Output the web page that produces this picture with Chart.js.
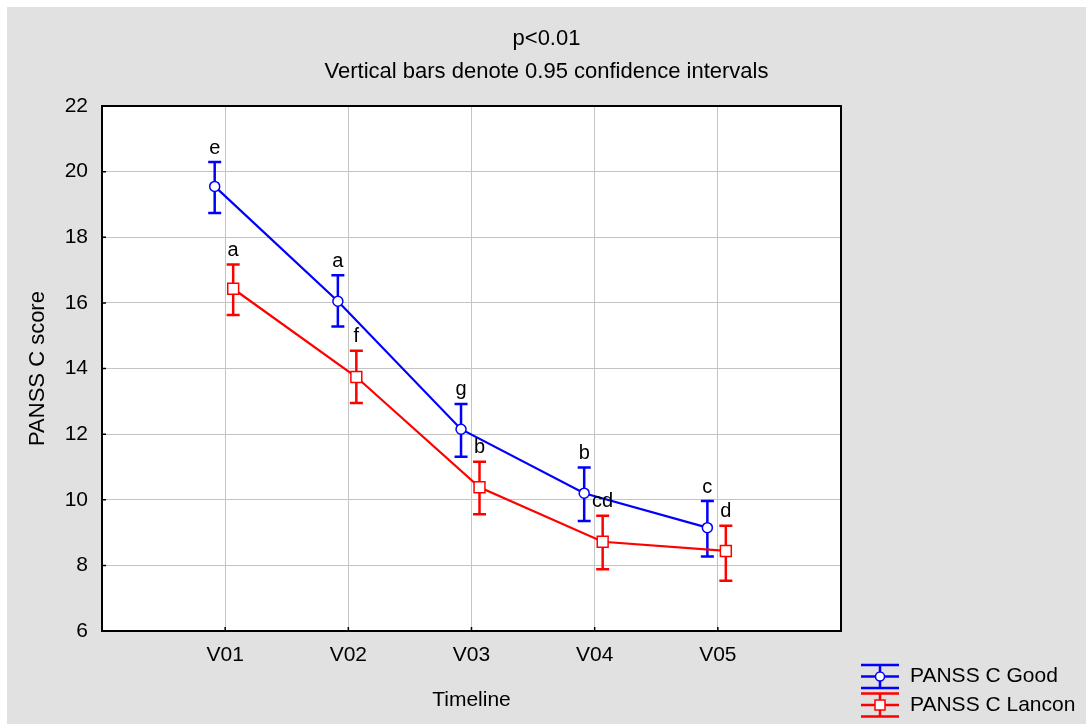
<!DOCTYPE html>
<html>
<head>
<meta charset="utf-8">
<script src="https://cdn.jsdelivr.net/npm/chart.js@4.4.0/dist/chart.umd.min.js"></script>
<style>
  html, body { margin: 0; padding: 0; background: #fff; }
  #wrap { width: 1086px; height: 725px; }
</style>
</head>
<body>
<div id="wrap"><canvas id="panss-chart"></canvas></div>
<script>
// x axis labels (one per visit)
const categories = ['V01', 'V02', 'V03', 'V04', 'V05'];

// PANSS C - Good group: means and 0.95 CI limits
const goodMean = [19.55, 16.05, 12.15, 10.2, 9.15];
const goodLow = [18.74, 15.28, 11.31, 9.35, 8.27];
const goodHigh = [20.29, 16.84, 12.92, 10.98, 9.96];
const goodLetters = ['e', 'a', 'g', 'b', 'c'];

// PANSS C - Lancon group
const lanconMean = [16.43, 13.74, 10.38, 8.72, 8.44];
const lanconLow = [15.63, 12.95, 9.56, 7.88, 7.53];
const lanconHigh = [17.17, 14.54, 11.16, 9.51, 9.21];
const lanconLetters = ['a', 'f', 'b', 'cd', 'd'];

const FONT = "'Liberation Sans', Arial, sans-serif";

// small horizontal shift so the two series don't sit on top of each other
const toPoints = (vals, shift) => vals.map((v, i) => ({ x: i + 1 + shift, y: v }));

const panssPlugin = {
  id: 'panssPlugin',
  beforeDraw(chart) {
    const { ctx, width, height, chartArea: a } = chart;
    ctx.save();
    ctx.fillStyle = '#fff';
    ctx.fillRect(0, 0, width, height);
    ctx.fillStyle = '#e1e1e1';
    ctx.fillRect(7, 7, width - 7, height - 8);
    ctx.fillStyle = '#fff';
    ctx.fillRect(a.left, a.top, a.right - a.left, a.bottom - a.top);
    ctx.restore();
  },
  beforeDatasetsDraw(chart) {
    // confidence interval whiskers
    const { ctx, scales: { y } } = chart;
    ctx.save();
    chart.data.datasets.forEach((ds, d) => {
      const meta = chart.getDatasetMeta(d);
      ctx.strokeStyle = ds.borderColor;
      ctx.lineWidth = 2.5;
      meta.data.forEach((pt, i) => {
        const top = y.getPixelForValue(ds.high[i]);
        const bot = y.getPixelForValue(ds.low[i]);
        ctx.beginPath();
        ctx.moveTo(pt.x, top); ctx.lineTo(pt.x, bot);
        ctx.moveTo(pt.x - 6.5, top); ctx.lineTo(pt.x + 6.5, top);
        ctx.moveTo(pt.x - 6.5, bot); ctx.lineTo(pt.x + 6.5, bot);
        ctx.stroke();
      });
    });
    ctx.restore();
  },
  afterDatasetsDraw(chart) {
    const { ctx, chartArea: a, scales: { x, y } } = chart;
    ctx.save();
    // group letters above the whiskers
    ctx.fillStyle = '#000';
    ctx.font = '20px ' + FONT;
    ctx.textAlign = 'center';
    ctx.textBaseline = 'middle';
    chart.data.datasets.forEach((ds, d) => {
      const meta = chart.getDatasetMeta(d);
      meta.data.forEach((pt, i) => {
        ctx.fillText(ds.letters[i], pt.x, y.getPixelForValue(ds.high[i]) - 14);
      });
    });
    // frame + inward ticks
    ctx.strokeStyle = '#000';
    ctx.lineWidth = 2;
    ctx.strokeRect(a.left, a.top, a.right - a.left, a.bottom - a.top);
    ctx.lineWidth = 1.5;
    ctx.beginPath();
    for (let v = 8; v <= 20; v += 2) {
      const py = y.getPixelForValue(v);
      ctx.moveTo(a.left, py); ctx.lineTo(a.left + 4, py);
    }
    for (let v = 1; v <= categories.length; v++) {
      const px = x.getPixelForValue(v);
      ctx.moveTo(px, a.bottom); ctx.lineTo(px, a.bottom - 4);
    }
    ctx.stroke();
    ctx.restore();
  },
  afterDraw(chart) {
    // legend with error-bar icons, bottom right
    const { ctx, chartArea: a } = chart;
    ctx.save();
    ctx.font = '21px ' + FONT;
    ctx.textBaseline = 'middle';
    chart.data.datasets.forEach((ds, d) => {
      const cy = 676.5 + d * 28.5;
      const x0 = a.right + 20, x1 = a.right + 58, cx = (x0 + x1) / 2;
      ctx.strokeStyle = ds.borderColor;
      ctx.lineWidth = 2.5;
      ctx.beginPath();
      ctx.moveTo(x0, cy - 11.5); ctx.lineTo(x1, cy - 11.5);
      ctx.moveTo(x0, cy + 11.5); ctx.lineTo(x1, cy + 11.5);
      ctx.moveTo(cx, cy - 11.5); ctx.lineTo(cx, cy + 11.5);
      ctx.moveTo(x0, cy); ctx.lineTo(x1, cy);
      ctx.stroke();
      ctx.fillStyle = '#fff';
      ctx.lineWidth = 1.5;
      ctx.beginPath();
      if (d === 0) ctx.arc(cx, cy, 4.5, 0, Math.PI * 2);
      else ctx.rect(cx - 5, cy - 5, 10, 10);
      ctx.fill();
      ctx.stroke();
      ctx.fillStyle = '#000';
      ctx.fillText(ds.label, x1 + 11, cy);
    });
    ctx.restore();
  }
};

new Chart(document.getElementById('panss-chart'), {
  type: 'line',
  data: {
    datasets: [{
      label: 'PANSS C Good',
      data: toPoints(goodMean, -0.085),
      low: goodLow, high: goodHigh, letters: goodLetters,
      borderColor: '#0000ff',
      borderWidth: 2.2,
      pointStyle: 'circle',
      pointRadius: 5,
      pointBorderWidth: 1.5,
      pointBackgroundColor: '#fff',
      pointBorderColor: '#0000ff',
      tension: 0
    }, {
      label: 'PANSS C Lancon',
      data: toPoints(lanconMean, 0.065),
      low: lanconLow, high: lanconHigh, letters: lanconLetters,
      borderColor: '#ff0000',
      borderWidth: 2.2,
      pointStyle: 'rect',
      pointRadius: 7.7,
      pointBorderWidth: 1.5,
      pointBackgroundColor: '#fff',
      pointBorderColor: '#ff0000',
      tension: 0
    }]
  },
  options: {
    responsive: true,
    maintainAspectRatio: false,
    animation: false,
    layout: { padding: { left: 7, top: 7, right: 0, bottom: 1 } },
    plugins: {
      legend: { display: false },
      tooltip: { enabled: false },
      title: {
        display: true,
        text: ['p<0.01', 'Vertical bars denote 0.95 confidence intervals'],
        color: '#000',
        font: { family: FONT, size: 22, weight: 'normal', lineHeight: 33 / 22 },
        padding: { top: 15.5, bottom: 17.5 }
      }
    },
    scales: {
      x: {
        type: 'linear',
        min: 0,
        max: 6,
        afterBuildTicks(s) { s.ticks = [0, 1, 2, 3, 4, 5, 6].map(v => ({ value: v })); },
        ticks: {
          callback: v => categories[v - 1] || '',
          color: '#000',
          font: { family: FONT, size: 21 },
          padding: 12,
          maxRotation: 0,
          autoSkip: false
        },
        grid: {
          color: c => (c.tick && c.tick.value >= 1 && c.tick.value <= 5) ? '#c4c4c4' : 'rgba(0,0,0,0)',
          drawTicks: false
        },
        border: { display: false },
        title: {
          display: true,
          text: 'Timeline',
          color: '#000',
          font: { family: FONT, size: 21 },
          padding: { top: 0, bottom: 11.4 }
        },
        afterFit(s) { s.height = 93; }
      },
      y: {
        min: 6,
        max: 22,
        ticks: {
          stepSize: 2,
          color: '#000',
          font: { family: FONT, size: 21 },
          padding: 14
        },
        grid: {
          color: c => (c.tick && c.tick.value > 6 && c.tick.value < 22) ? '#c4c4c4' : 'rgba(0,0,0,0)',
          drawTicks: false
        },
        border: { display: false },
        title: {
          display: true,
          text: 'PANSS C score',
          color: '#000',
          font: { family: FONT, size: 22 },
          padding: { top: 17.8, bottom: 0 }
        },
        afterFit(s) { s.width = 95; }
      },
      r: {
        type: 'linear',
        position: 'right',
        display: true,
        ticks: { display: false },
        grid: { display: false, drawTicks: false },
        border: { display: false },
        afterFit(s) { s.width = 245; }
      }
    }
  },
  plugins: [panssPlugin]
});
</script>
</body>
</html>
